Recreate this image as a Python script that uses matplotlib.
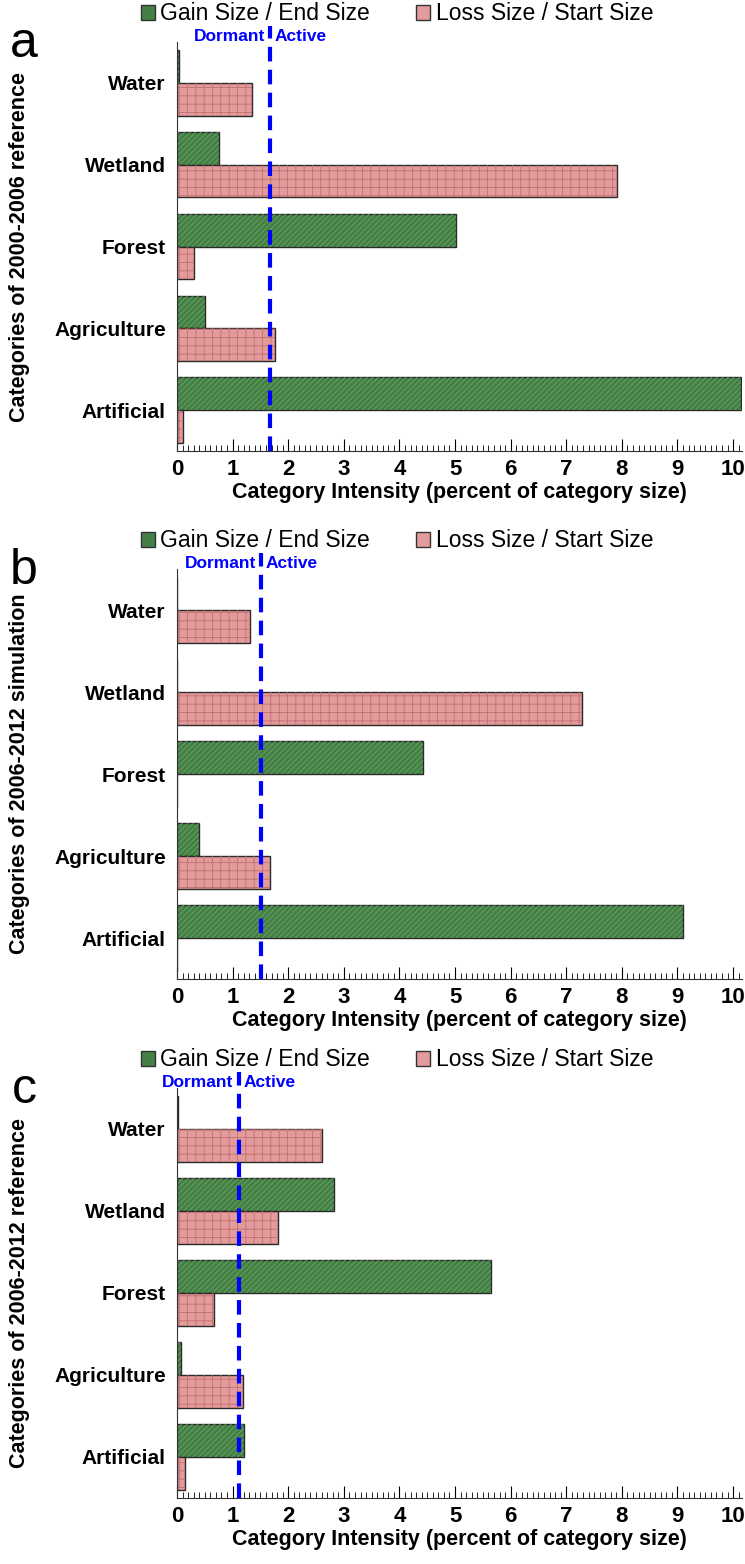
import numpy as np
import matplotlib.pyplot as plt
from matplotlib.patches import Patch
from matplotlib.ticker import MultipleLocator

plt.rcParams['font.family'] = ['Liberation Sans', 'DejaVu Sans']
plt.rcParams['hatch.linewidth'] = 0.6

categories = ['Water', 'Wetland', 'Forest', 'Agriculture', 'Artificial']

# panel a: 2000-2006 reference
gain_a = [0.04, 0.76, 5.02, 0.50, 10.15]
loss_a = [1.35, 7.92, 0.30, 1.76, 0.10]
thr_a = 1.67

# panel b: 2006-2012 simulation
gain_b = [0.0, 0.0, 4.43, 0.40, 9.10]
loss_b = [1.31, 7.28, 0.0, 1.67, 0.0]
thr_b = 1.51

# panel c: 2006-2012 reference
gain_c = [0.02, 2.82, 5.64, 0.08, 1.20]
loss_c = [2.60, 1.81, 0.67, 1.18, 0.14]
thr_c = 1.11

ylabels = ['Categories of 2000-2006 reference',
           'Categories of 2006-2012 simulation',
           'Categories of 2006-2012 reference']
letters = ['a', 'b', 'c']

W, H = 745, 1564
fig = plt.figure(figsize=(W / 100, H / 100), dpi=100)

green = '#447f44'
pink = '#e39b9b'


def bars(ax, y, vals, fc, hc, hatch):
    ax.barh(y, vals, height=0.4, color=fc, edgecolor='#2a2a2a', linewidth=1.0, zorder=2)
    ax.barh(y, vals, height=0.4, fill=False, edgecolor=hc, hatch=hatch, linewidth=0, zorder=2)


panels = [(gain_a, loss_a, thr_a, 42, 451),
          (gain_b, loss_b, thr_b, 569, 979),
          (gain_c, loss_c, thr_c, 1088, 1498)]

for i, (gain, loss, thr, top, bot) in enumerate(panels):
    left, right = 177, 742
    ax = fig.add_axes([left / W, 1 - bot / H, (right - left) / W, (bot - top) / H])
    y = np.arange(len(categories))
    bars(ax, y - 0.2, gain, green, '#69a669', '//////')
    bars(ax, y + 0.2, loss, pink, '#c27070', '++')

    ax.set_ylim(4.5, -0.5)
    ax.set_xlim(0, 10.16)
    ax.set_yticks(y)
    ax.set_yticklabels(categories, fontsize=15, fontweight='bold')
    ax.tick_params(axis='y', length=0, pad=8)
    ax.xaxis.set_major_locator(MultipleLocator(1))
    ax.xaxis.set_minor_locator(MultipleLocator(0.1))
    ax.tick_params(axis='x', which='major', direction='in', length=9, width=0.8, labelsize=16, pad=6)
    ax.tick_params(axis='x', which='minor', direction='in', length=4, width=0.6)
    for lab in ax.get_xticklabels():
        lab.set_fontweight('bold')
    ax.set_xlabel('Category Intensity (percent of category size)', fontsize=15.5,
                  fontweight='bold', labelpad=1)
    for s in ['top', 'right']:
        ax.spines[s].set_visible(False)
    ax.spines['left'].set_color('#333333')
    ax.spines['bottom'].set_color('#333333')

    # uniform intensity line
    ax.plot([thr, thr], [4.5, -0.7], color='#0000ff', linestyle=(0, (3.5, 2)),
            linewidth=3, clip_on=False, zorder=3)
    ax.text(thr - 0.09, -0.57, 'Dormant', color='#0000ff', fontsize=12.5, fontweight='bold',
            ha='right', va='center', clip_on=False)
    ax.text(thr + 0.09, -0.57, 'Active', color='#0000ff', fontsize=12.5, fontweight='bold',
            ha='left', va='center', clip_on=False)

    handles = [Patch(facecolor=green, edgecolor='#333333', label='Gain Size / End Size'),
               Patch(facecolor=pink, edgecolor='#333333', label='Loss Size / Start Size')]
    fig.legend(handles=handles, ncol=2, frameon=False, fontsize=16.5,
               loc='center', bbox_to_anchor=(397 / W, 1 - (top - 28) / H),
               handlelength=0.6, handleheight=0.6, handletextpad=0.25, columnspacing=2.0,
               borderpad=0)

    fig.text(20 / W, 1 - (top + bot) / 2 / H, ylabels[i], rotation=90, fontsize=15.5,
             fontweight='bold', ha='center', va='center')
    fig.text(24 / W, 1 - (top + 2) / H, letters[i], fontsize=36, ha='center', va='center')

fig.savefig('out.png', dpi=100)
